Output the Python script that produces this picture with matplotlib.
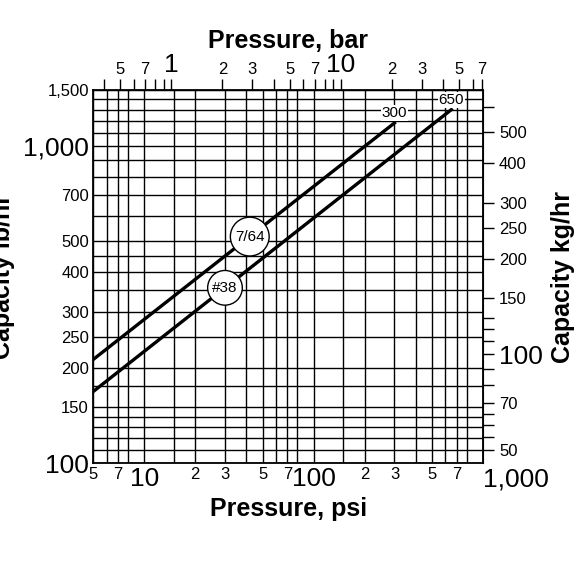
import numpy as np
import matplotlib
matplotlib.use("Agg")
import matplotlib.pyplot as plt
from matplotlib.ticker import FixedLocator, NullLocator, FuncFormatter
from matplotlib.transforms import ScaledTranslation

plt.rcParams['font.family'] = ['Liberation Sans', 'DejaVu Sans']

# data
line_names = ["7/64", "#38"]
psi_start = [5, 5]
psi_end = [300, 650]
cap_start = [212, 168]
cap_end = [1180, 1300]
end_labels = ["300", "650"]
badge_psi = [42, 30]

psi_major = [5, 7, 10, 20, 30, 50, 70, 100, 200, 300, 500, 700, 1000]
psi_major_lbl = ["5", "7", "10", "2", "3", "5", "7", "100", "2", "3", "5", "7", "1,000"]
psi_grid = [5, 6, 7, 8, 10, 15, 20, 30, 40, 50, 60, 70, 80, 100, 150, 200, 300, 400, 500, 600, 700, 800, 1000]
lb_ticks = [100, 150, 200, 250, 300, 400, 500, 700, 1000, 1500]
lb_lbl = ["100", "150", "200", "250", "300", "400", "500", "700", "1,000", "1,500"]
lb_grid = [100, 110, 120, 130, 140, 150, 175, 200, 250, 300, 350, 400, 450, 500, 600, 700, 800, 900,
           1000, 1100, 1200, 1300, 1400, 1500]
bar_ticks = [0.4, 0.5, 0.6, 0.7, 0.8, 0.9, 1, 2, 3, 4, 5, 6, 7, 8, 9, 10, 20, 30, 40, 50, 60, 68]
bar_lbl = {0.5: "5", 0.7: "7", 1: "1", 2: "2", 3: "3", 5: "5", 7: "7", 10: "10", 20: "2", 30: "3", 50: "5", 68: "7"}
kg_ticks = [50, 55, 60, 65, 70, 80, 90, 100, 110, 120, 130, 150, 200, 250, 300, 400, 500, 600]
kg_lbl = {50: "50", 70: "70", 100: "100", 150: "150", 200: "200", 250: "250", 300: "300", 400: "400", 500: "500"}

fig = plt.figure(figsize=(5.82, 5.62), dpi=100)
ax = fig.add_axes([0.160, 0.176, 0.670, 0.664])
ax.set_xscale('log'); ax.set_yscale('log')
ax.set_xlim(5, 1000); ax.set_ylim(100, 1500)

for x in psi_grid:
    ax.axvline(x, color='black', lw=1.0, zorder=1)
for y in lb_grid:
    ax.axhline(y, color='black', lw=1.0, zorder=1)
for s in ax.spines.values():
    s.set_linewidth(1.3)

for i in range(2):
    ax.plot([psi_start[i], psi_end[i]], [cap_start[i], cap_end[i]], color='black', lw=2.4, zorder=3)
    ax.text(psi_end[i], cap_end[i] * 1.02, end_labels[i], ha='center', va='bottom', fontsize=11,
            bbox=dict(facecolor='white', edgecolor='none', pad=0.5), zorder=4)
    k = np.log(cap_end[i] / cap_start[i]) / np.log(psi_end[i] / psi_start[i])
    yb = cap_start[i] * (badge_psi[i] / psi_start[i]) ** k
    ax.text(badge_psi[i], yb, line_names[i], ha='center', va='center', fontsize=11, zorder=5,
            bbox=dict(boxstyle='circle,pad=0.3', facecolor='white', edgecolor='black', lw=1.0))

ax.xaxis.set_major_locator(FixedLocator(psi_major))
ax.set_xticklabels(psi_major_lbl)
ax.xaxis.set_minor_locator(NullLocator())
for lbl, t in zip(ax.get_xticklabels(), psi_major_lbl):
    lbl.set_fontsize(19 if t in ("10", "100", "1,000") else 12)
    if t == "1,000":
        lbl.set_horizontalalignment('left')
        lbl.set_transform(lbl.get_transform() + ScaledTranslation(-6 / 72, 0, fig.dpi_scale_trans))
ax.tick_params(axis='x', length=0, pad=3)
ax.yaxis.set_major_locator(FixedLocator(lb_ticks))
ax.set_yticklabels(lb_lbl)
ax.yaxis.set_minor_locator(NullLocator())
for lbl, t in zip(ax.get_yticklabels(), lb_lbl):
    lbl.set_fontsize(19 if t in ("100", "1,000") else 12)
ax.tick_params(axis='y', length=0, pad=3)
ax.set_xlabel("Pressure, psi", fontsize=18, fontweight='bold', labelpad=4)
ax.set_ylabel("Capacity lb/hr", fontsize=18, fontweight='bold', labelpad=6)

top = ax.secondary_xaxis('top', functions=(lambda p: p / 14.5, lambda b: b * 14.5))
top.xaxis.set_major_locator(FixedLocator(bar_ticks))
top.xaxis.set_minor_locator(NullLocator())
top.xaxis.set_major_formatter(FuncFormatter(lambda v, p: next((s for k2, s in bar_lbl.items() if abs(k2 - v) < 1e-6), "")))
top.tick_params(axis='x', direction='out', length=8, width=1, pad=1, labelsize=12)
top.set_xlabel("Pressure, bar", fontsize=18, fontweight='bold', labelpad=4)

right = ax.secondary_yaxis('right', functions=(lambda l: l / 2.2046, lambda k: k * 2.2046))
right.yaxis.set_major_locator(FixedLocator(kg_ticks))
right.yaxis.set_minor_locator(NullLocator())
right.yaxis.set_major_formatter(FuncFormatter(lambda v, p: next((s for k2, s in kg_lbl.items() if abs(k2 - v) < 1e-6), "")))
right.tick_params(axis='y', direction='out', length=8, width=1, labelsize=12)
right.set_ylabel("Capacity kg/hr", fontsize=18, fontweight='bold', labelpad=6)
fig.canvas.draw()
for lbl in top.get_xticklabels():
    if lbl.get_text() in ("1", "10"):
        lbl.set_fontsize(19)
for lbl in right.get_yticklabels():
    if lbl.get_text() == "100":
        lbl.set_fontsize(19)

fig.savefig("out.png", dpi=100)
